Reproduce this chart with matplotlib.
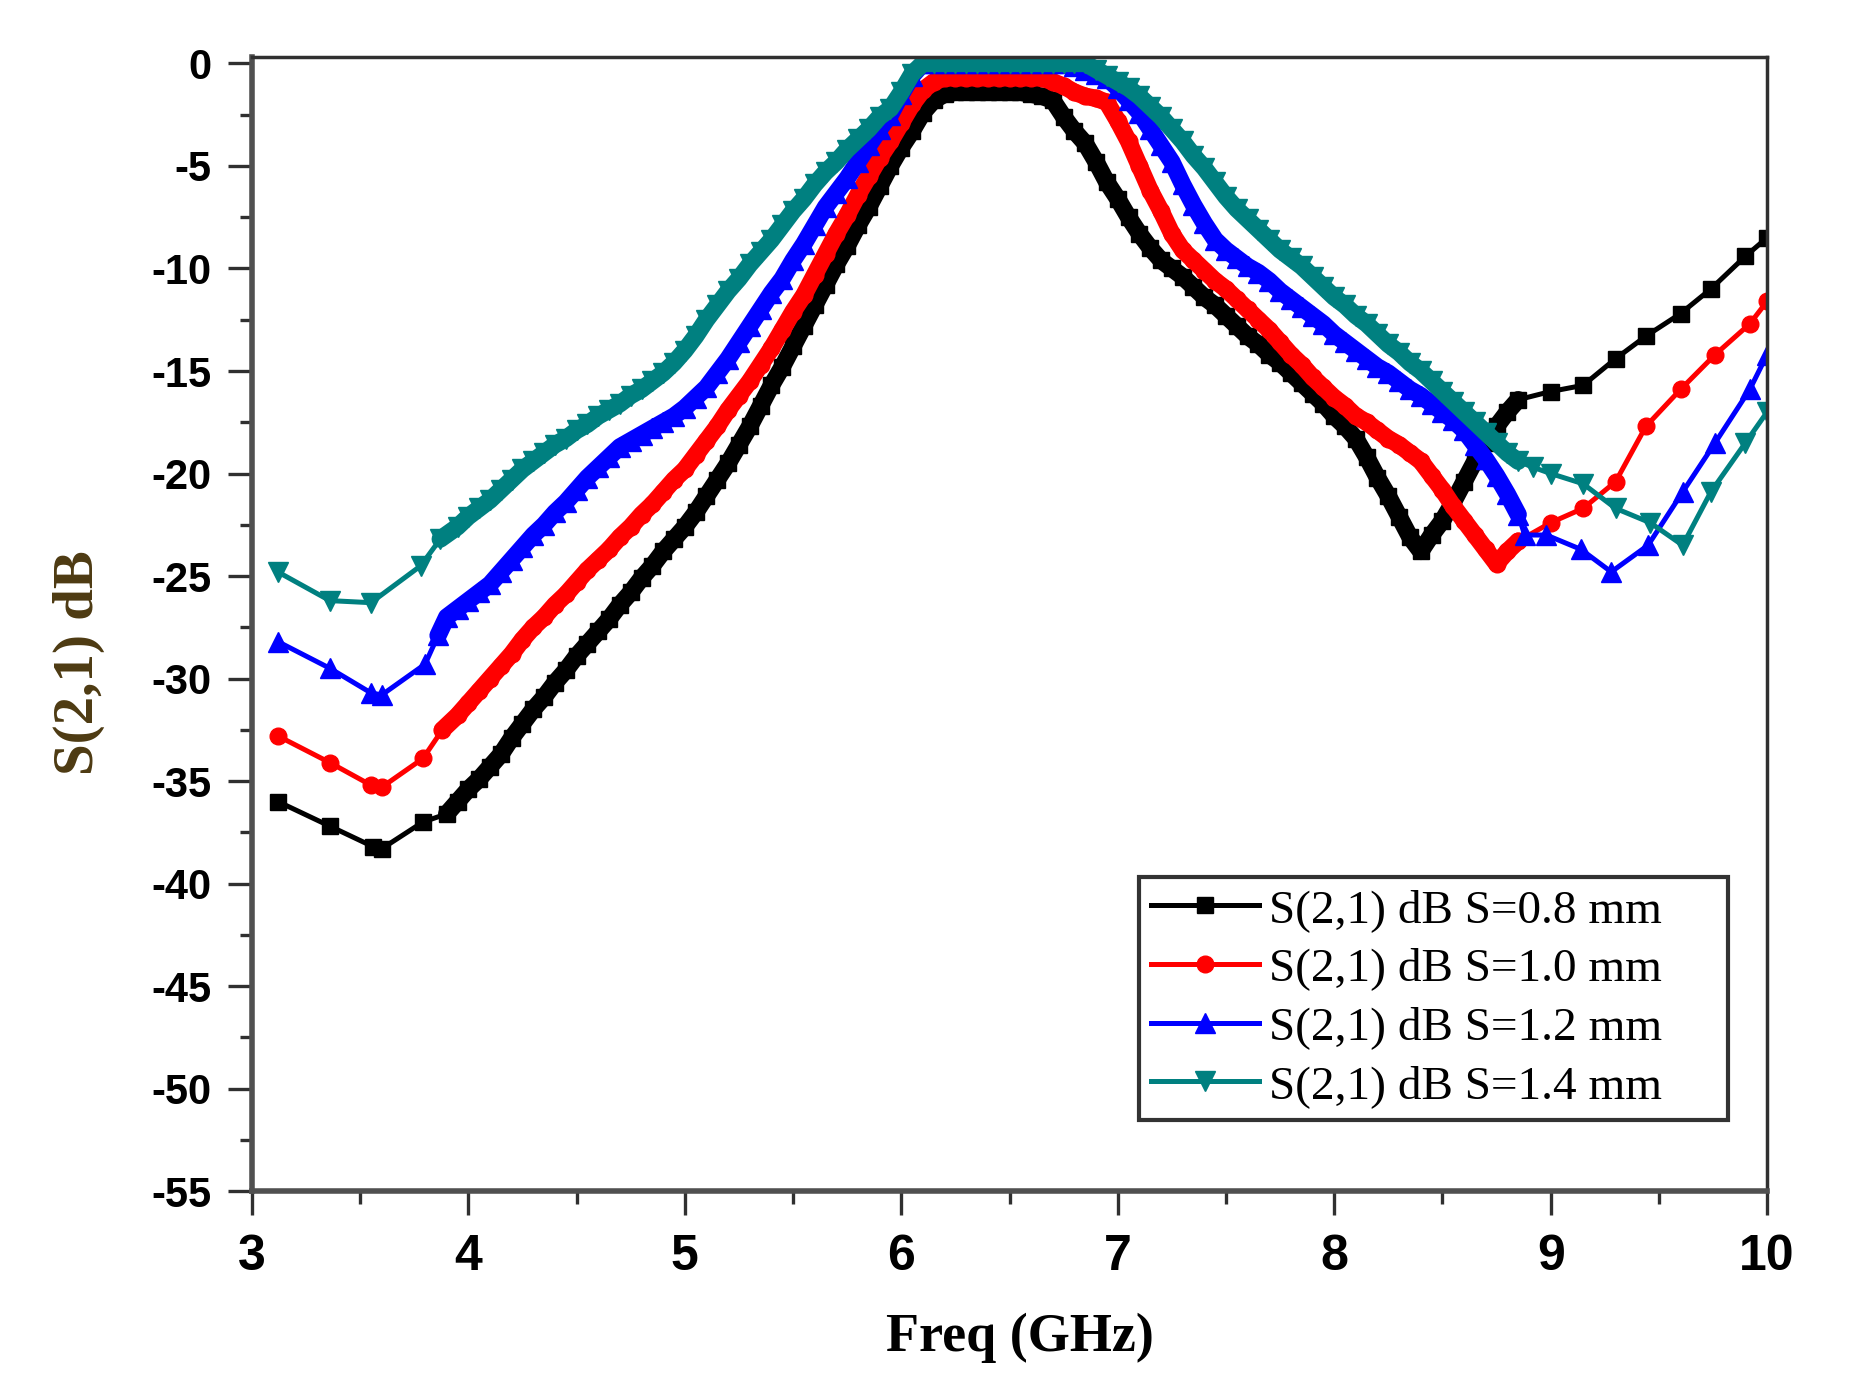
import matplotlib
matplotlib.use("Agg")
import matplotlib.pyplot as plt
from matplotlib.ticker import MultipleLocator

plt.rcParams['axes.unicode_minus'] = False

# --- S=0.8 mm ---
freq_08 = [3.12, 3.36, 3.56, 3.60, 3.79, 3.90,
           3.95,
           4.00, 4.05, 4.10, 4.15, 4.20, 4.25, 4.30, 4.35, 4.40, 4.45,
           4.50, 4.55, 4.60, 4.65, 4.70, 4.75, 4.80, 4.85, 4.90, 4.95,
           5.00, 5.05, 5.10, 5.15, 5.20, 5.25, 5.30, 5.35, 5.40, 5.45,
           5.50, 5.55, 5.60, 5.65, 5.70, 5.75, 5.80, 5.85, 5.90, 5.95,
           6.00, 6.05, 6.10, 6.15, 6.20, 6.25, 6.30, 6.35, 6.40, 6.45,
           6.50, 6.55, 6.60, 6.65, 6.70, 6.75, 6.80, 6.85, 6.90, 6.95,
           7.00, 7.05, 7.10, 7.15, 7.20, 7.25, 7.30, 7.35, 7.40, 7.45,
           7.50, 7.55, 7.60, 7.65, 7.70, 7.75, 7.80, 7.85, 7.90, 7.95,
           8.00, 8.05, 8.10, 8.15, 8.20, 8.25, 8.30, 8.35, 8.40, 8.45,
           8.50, 8.55, 8.60, 8.65, 8.70, 8.75, 8.80, 8.85,
           9.00, 9.15, 9.30, 9.44, 9.60, 9.74, 9.90, 10.0]
db_08 = [-36.0, -37.2, -38.2, -38.3, -37.0, -36.6,
         -36.0,
         -35.4, -34.9, -34.3, -33.7, -32.9, -32.2, -31.5, -30.9, -30.2, -29.6,
         -28.9, -28.3, -27.7, -27.1, -26.4, -25.8, -25.1, -24.5, -23.8, -23.2,
         -22.6, -21.9, -21.1, -20.3, -19.5, -18.6, -17.7, -16.7, -15.7, -14.8,
         -13.8, -12.8, -11.8, -10.8, -9.8, -8.9, -7.9, -7.0, -6.0, -5.0,
         -4.1, -3.3, -2.4, -1.8, -1.5, -1.4, -1.4, -1.4, -1.4, -1.4,
         -1.4, -1.4, -1.5, -1.6, -1.8, -2.6, -3.3, -3.9, -4.8, -5.8,
         -6.6, -7.5, -8.3, -9.0, -9.6, -10.0, -10.4, -10.9, -11.4, -11.8,
         -12.3, -12.8, -13.3, -13.7, -14.2, -14.6, -15.1, -15.6, -16.1, -16.6,
         -17.2, -17.7, -18.3, -19.2, -20.2, -21.1, -22.1, -23.1, -23.8, -23.0,
         -22.3, -21.4, -20.4, -19.4, -18.5, -17.7, -17.0, -16.4,
         -16.0, -15.7, -14.4, -13.3, -12.2, -11.0, -9.4, -8.5]

# --- S=1.0 mm ---
freq_10 = [3.12, 3.36, 3.55, 3.60, 3.79, 3.88,
           3.95,
           4.00, 4.05, 4.10, 4.15, 4.20, 4.25, 4.30, 4.35, 4.40, 4.45,
           4.50, 4.55, 4.60, 4.65, 4.70, 4.75, 4.80, 4.85, 4.90, 4.95,
           5.00, 5.05, 5.10, 5.15, 5.20, 5.25, 5.30, 5.35, 5.40, 5.45,
           5.50, 5.55, 5.60, 5.65, 5.70, 5.75, 5.80, 5.85, 5.90, 5.95,
           6.00, 6.05, 6.10, 6.15, 6.20, 6.25, 6.30, 6.35, 6.40, 6.45,
           6.50, 6.55, 6.60, 6.65, 6.70, 6.75, 6.80, 6.85, 6.90, 6.95,
           7.00, 7.05, 7.10, 7.15, 7.20, 7.25, 7.30, 7.35, 7.40, 7.45,
           7.50, 7.55, 7.60, 7.65, 7.70, 7.75, 7.80, 7.85, 7.90, 7.95,
           8.00, 8.05, 8.10, 8.15, 8.20, 8.25, 8.30, 8.35, 8.40, 8.45,
           8.50, 8.55, 8.60, 8.65, 8.70, 8.75, 8.80, 8.85,
           9.00, 9.15, 9.30, 9.44, 9.60, 9.76, 9.92, 10.0]
db_10 = [-32.8, -34.1, -35.2, -35.3, -33.9, -32.5,
         -31.8,
         -31.2, -30.6, -30.0, -29.4, -28.8, -28.1, -27.5, -27.0, -26.4, -25.9,
         -25.3, -24.7, -24.2, -23.7, -23.1, -22.6, -22.0, -21.5, -20.9, -20.3,
         -19.8, -19.1, -18.4, -17.7, -16.9, -16.2, -15.5, -14.7, -13.9, -13.0,
         -12.1, -11.3, -10.3, -9.3, -8.3, -7.4, -6.4, -5.5, -4.6, -3.8,
         -2.9, -2.0, -1.3, -0.9, -0.7, -0.7, -0.7, -0.7, -0.7, -0.7,
         -0.7, -0.7, -0.7, -0.7, -0.9, -1.1, -1.4, -1.6, -1.7, -1.9,
         -2.8, -3.8, -5.0, -6.2, -7.2, -8.3, -9.1, -9.6, -10.1, -10.6,
         -11.0, -11.5, -12.0, -12.5, -13.0, -13.6, -14.2, -14.7, -15.3, -15.8,
         -16.3, -16.7, -17.2, -17.5, -17.9, -18.3, -18.6, -19.0, -19.4, -20.1,
         -20.8, -21.6, -22.3, -23.0, -23.7, -24.4, -23.8, -23.3,
         -22.4, -21.7, -20.4, -17.7, -15.9, -14.2, -12.7, -11.6]

# --- S=1.2 mm ---
freq_12 = [3.12, 3.36, 3.55, 3.60, 3.80, 3.86,
           3.90, 3.95,
           4.00, 4.05, 4.10, 4.15, 4.20, 4.25, 4.30, 4.35, 4.40, 4.45,
           4.50, 4.55, 4.60, 4.65, 4.70, 4.75, 4.80, 4.85, 4.90, 4.95,
           5.00, 5.05, 5.10, 5.15, 5.20, 5.25, 5.30, 5.35, 5.40, 5.45,
           5.50, 5.55, 5.60, 5.65, 5.70, 5.75, 5.80, 5.85, 5.90, 5.95,
           6.00, 6.05, 6.10, 6.15, 6.20, 6.25, 6.30, 6.35, 6.40, 6.45,
           6.50, 6.55, 6.60, 6.65, 6.70, 6.75, 6.80, 6.85, 6.90, 6.95,
           7.00, 7.05, 7.10, 7.15, 7.20, 7.25, 7.30, 7.35, 7.40, 7.45,
           7.50, 7.55, 7.60, 7.65, 7.70, 7.75, 7.80, 7.85, 7.90, 7.95,
           8.00, 8.05, 8.10, 8.15, 8.20, 8.25, 8.30, 8.35, 8.40, 8.45,
           8.50, 8.55, 8.60, 8.65, 8.70, 8.75, 8.80, 8.85,
           8.88, 8.98, 9.14, 9.28, 9.45, 9.61, 9.76, 9.92, 10.0]
db_12 = [-28.2, -29.5, -30.7, -30.8, -29.3, -27.9,
         -27.0, -26.6,
         -26.2, -25.8, -25.4, -24.8, -24.2, -23.6, -23.0, -22.5, -21.9, -21.4,
         -20.8, -20.2, -19.7, -19.2, -18.7, -18.4, -18.1, -17.8, -17.5, -17.2,
         -16.8, -16.3, -15.8, -15.1, -14.4, -13.6, -12.8, -12.0, -11.2, -10.5,
         -9.6, -8.8, -7.9, -7.0, -6.3, -5.6, -4.8, -4.0, -3.2, -2.5,
         -1.5, -0.6, 0.0, 0.0, 0.0, 0.0, 0.0, 0.0, 0.0, 0.0,
         0.0, 0.0, 0.0, 0.0, 0.0, 0.0, -0.1, -0.3, -0.5, -0.7,
         -1.2, -1.8, -2.4, -3.2, -4.0, -4.8, -5.9, -6.9, -7.8, -8.6,
         -9.1, -9.5, -9.9, -10.2, -10.6, -11.1, -11.5, -11.9, -12.3, -12.7,
         -13.2, -13.6, -14.0, -14.4, -14.8, -15.1, -15.5, -15.9, -16.2, -16.6,
         -17.0, -17.4, -17.9, -18.6, -19.3, -20.1, -21.0, -22.0,
         -23.0, -23.0, -23.7, -24.8, -23.5, -20.9, -18.5, -15.9, -14.2]

# --- S=1.4 mm ---
freq_14 = [3.12, 3.36, 3.55, 3.78, 3.87,
           3.95,
           4.00, 4.05, 4.10, 4.15, 4.20, 4.25, 4.30, 4.35, 4.40, 4.45,
           4.50, 4.55, 4.60, 4.65, 4.70, 4.75, 4.80, 4.85, 4.90, 4.95,
           5.00, 5.05, 5.10, 5.15, 5.20, 5.25, 5.30, 5.35, 5.40, 5.45,
           5.50, 5.55, 5.60, 5.65, 5.70, 5.75, 5.80, 5.85, 5.90, 5.95,
           6.00, 6.05, 6.10, 6.15, 6.20, 6.25, 6.30, 6.35, 6.40, 6.45,
           6.50, 6.55, 6.60, 6.65, 6.70, 6.75, 6.80, 6.85, 6.90, 6.95,
           7.00, 7.05, 7.10, 7.15, 7.20, 7.25, 7.30, 7.35, 7.40, 7.45,
           7.50, 7.55, 7.60, 7.65, 7.70, 7.75, 7.80, 7.85, 7.90, 7.95,
           8.00, 8.05, 8.10, 8.15, 8.20, 8.25, 8.30, 8.35, 8.40, 8.45,
           8.50, 8.55, 8.60, 8.65, 8.70, 8.75, 8.80, 8.85,
           8.92, 9.00, 9.15, 9.30, 9.46, 9.61, 9.74, 9.90, 10.0]
db_14 = [-24.8, -26.2, -26.3, -24.5, -23.2,
         -22.6,
         -22.1, -21.7, -21.3, -20.8, -20.3, -19.8, -19.4, -19.0, -18.6, -18.3,
         -17.9, -17.6, -17.2, -16.9, -16.6, -16.2, -15.9, -15.5, -15.1, -14.6,
         -14.0, -13.3, -12.5, -11.8, -11.1, -10.5, -9.8, -9.2, -8.6, -7.9,
         -7.2, -6.6, -5.9, -5.3, -4.8, -4.2, -3.7, -3.2, -2.6, -2.2,
         -1.4, -0.5, 0.0, 0.0, 0.0, 0.0, 0.0, 0.0, 0.0, 0.0,
         0.0, 0.0, 0.0, 0.0, 0.0, 0.0, 0.0, 0.0, -0.3, -0.6,
         -0.9, -1.2, -1.6, -2.1, -2.6, -3.2, -3.8, -4.5, -5.1, -5.8,
         -6.5, -7.1, -7.6, -8.1, -8.6, -9.1, -9.5, -9.9, -10.4, -10.9,
         -11.4, -11.8, -12.3, -12.7, -13.2, -13.7, -14.1, -14.6, -15.0, -15.5,
         -16.0, -16.5, -17.0, -17.5, -18.0, -18.5, -19.0, -19.4,
         -19.7, -20.0, -20.5, -21.7, -22.4, -23.5, -20.9, -18.5, -17.0]

labels = ["S(2,1) dB S=0.8 mm", "S(2,1) dB S=1.0 mm",
          "S(2,1) dB S=1.2 mm", "S(2,1) dB S=1.4 mm"]
y_ticks = [0, -5, -10, -15, -20, -25, -30, -35, -40, -45, -50, -55]
x_ticks = [3, 4, 5, 6, 7, 8, 9, 10]

# (x, y, colour, marker, marker size, first/last index of the densely sampled stretch)
series = [(freq_08, db_08, "#000000", "s", 12, 5, -8),
          (freq_10, db_10, "#ff0000", "o", 12, 5, -8),
          (freq_12, db_12, "#0000ff", "^", 14, 5, -9),
          (freq_14, db_14, "#008080", "v", 14, 4, -9)]

fig = plt.figure(figsize=(18.66, 13.98), dpi=100)
ax = fig.add_axes([0.135, 0.148, 0.812, 0.811])

for (f, d, c, m, ms, i0, i1), lab in zip(series, labels):
    ax.plot(f, d, color=c, marker=m, markersize=ms, linewidth=3.6,
            markeredgecolor=c, label=lab)
    # the sweep points sit so close here that the markers merge into a band
    ax.plot(f[i0:i1], d[i0:i1], color=c, linewidth=12.5,
            solid_joinstyle="round", solid_capstyle="round")

ax.set_xlim(3, 10)
ax.set_ylim(-55, 0.3)
ax.set_xticks(x_ticks)
ax.set_yticks(y_ticks)
ax.xaxis.set_minor_locator(MultipleLocator(0.5))
ax.yaxis.set_minor_locator(MultipleLocator(2.5))

for side in ["left", "bottom"]:
    ax.spines[side].set_linewidth(4)
    ax.spines[side].set_color("#505050")
for side in ["top", "right"]:
    ax.spines[side].set_linewidth(2.5)
    ax.spines[side].set_color("#303030")

ax.tick_params(which="major", direction="out", length=17, width=2.4, color="#303030")
ax.tick_params(which="minor", direction="out", length=9, width=2.4, color="#303030")
ax.tick_params(axis="x", pad=14)
ax.tick_params(axis="y", pad=12)
for t in ax.get_xticklabels():
    t.set_fontfamily("Liberation Sans")
    t.set_fontweight("bold")
    t.set_fontsize(36)
for t in ax.get_yticklabels():
    t.set_fontfamily("Liberation Sans")
    t.set_fontweight("bold")
    t.set_fontsize(30)

ax.set_xlabel("Freq (GHz)", fontfamily="Liberation Serif", fontweight="bold",
              fontsize=39, color="black")
ax.set_ylabel("S(2,1) dB", fontfamily="Liberation Serif", fontweight="bold",
              fontsize=41, color="#4d3a12")
ax.xaxis.set_label_coords(0.507, -0.107)
ax.yaxis.set_label_coords(-0.097, 0.466)

leg = ax.legend(loc="upper left", bbox_to_anchor=(0.5855, 0.069, 0.389, 0.208),
                mode="expand", borderaxespad=0, frameon=True, fancybox=False,
                prop={"family": "Liberation Serif", "size": 34},
                handlelength=2.3, handletextpad=0.2, labelspacing=0.33,
                borderpad=0.25)
leg.get_frame().set_edgecolor("black")
leg.get_frame().set_linewidth(3)

fig.savefig("out.png", dpi=100)
